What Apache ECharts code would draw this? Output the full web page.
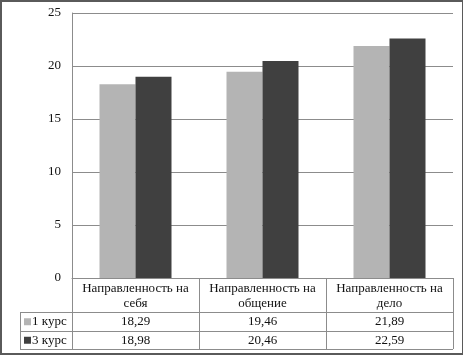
<!DOCTYPE html>
<html>
<head>
<meta charset="utf-8">
<script src="https://cdn.jsdelivr.net/npm/echarts@6/dist/echarts.min.js"></script>
<style>
  html, body { margin: 0; padding: 0; background: #fff; }
  #main { width: 463px; height: 355px; box-sizing: border-box; border: 2px solid #5a5a5a; border-right-width: 1px; }
</style>
</head>
<body>
<div id="main"></div>
<script>
// данные диаграммы
const categories = ["Направленность на\nсебя", "Направленность на\nобщение", "Направленность на\nдело"];
const seriesNames = ["1 курс", "3 курс"];
const course1 = [18.29, 19.46, 21.89];
const course3 = [18.98, 20.46, 22.59];
const yTicks = [0, 5, 10, 15, 20, 25];

const colors = ["#b4b4b4", "#404040"];
const lineColor = "#8c8c8c";
const font = "Liberation Serif";

const chart = echarts.init(document.getElementById("main"), null, { renderer: "canvas" });

const fmt = (v) => v.toFixed(2).replace(".", ",");

chart.setOption({
  animation: false,
  grid: { left: 70, right: 9, top: 11, bottom: 75 },
  xAxis: {
    type: "category",
    data: categories,
    axisLine: { show: true, lineStyle: { color: lineColor, width: 1 } },
    axisTick: { show: false },
    axisLabel: {
      margin: 3,
      interval: 0,
      fontFamily: font,
      fontSize: 13,
      lineHeight: 15,
      color: "#111"
    }
  },
  yAxis: {
    type: "value",
    min: yTicks[0],
    max: yTicks[yTicks.length - 1],
    interval: 5,
    axisLine: { show: true, lineStyle: { color: lineColor, width: 1 } },
    axisTick: { show: false },
    splitLine: { show: true, lineStyle: { color: lineColor, width: 1 } },
    axisLabel: { margin: 11, fontFamily: font, fontSize: 13, color: "#111" }
  },
  series: [
    {
      name: seriesNames[0],
      type: "bar",
      data: course1,
      barWidth: 36,
      barGap: "0%",
      itemStyle: { color: colors[0] }
    },
    {
      name: seriesNames[1],
      type: "bar",
      data: course3,
      barWidth: 36,
      barGap: "0%",
      itemStyle: { color: colors[1] }
    }
  ]
});

/*
 * таблица данных под осью
 * */
const drawTable = () => {
  const c0 = chart.convertToPixel({ xAxisIndex: 0 }, 0);
  const c1 = chart.convertToPixel({ xAxisIndex: 0 }, 1);
  const band = c1 - c0;
  const axisY = chart.convertToPixel({ yAxisIndex: 0 }, 0);
  const left = c0 - band / 2;
  const right = left + band * categories.length;
  const headerBottom = axisY + 34;
  const rowH = 18.5;
  const tableBottom = headerBottom + rowH * 2;
  const labelLeft = 18;
  const els = [];
  const line = (x1, y1, x2, y2) => els.push({
    type: "line",
    shape: { x1, y1, x2, y2 },
    style: { stroke: lineColor, lineWidth: 1 }
  });
  // вертикальные линии
  for (let i = 0; i <= categories.length; i++) {
    const x = Math.round(left + band * i) + 0.5;
    line(x, axisY, x, tableBottom);
  }
  line(labelLeft + 0.5, headerBottom, labelLeft + 0.5, tableBottom);
  // горизонтальные линии
  [headerBottom, headerBottom + rowH, tableBottom].forEach((y) => {
    const yy = Math.round(y) + 0.5;
    line(labelLeft, yy, right, yy);
  });
  [course1, course3].forEach((vals, r) => {
    const cy = headerBottom + rowH * r + rowH / 2 + 0.5;
    els.push({
      type: "rect",
      shape: { x: labelLeft + 4, y: cy - 3.5, width: 7, height: 7 },
      style: { fill: colors[r] }
    });
    els.push({
      type: "text",
      x: labelLeft + 12,
      y: cy,
      style: { text: seriesNames[r], font: "13px '" + font + "'", fill: "#111", verticalAlign: "middle", align: "left" }
    });
    vals.forEach((v, i) => {
      els.push({
        type: "text",
        x: left + band * i + band / 2,
        y: cy,
        style: { text: fmt(v), font: "13px '" + font + "'", fill: "#111", verticalAlign: "middle", align: "center" }
      });
    });
  });
  chart.setOption({ graphic: els });
};
drawTable();
</script>
</body>
</html>
